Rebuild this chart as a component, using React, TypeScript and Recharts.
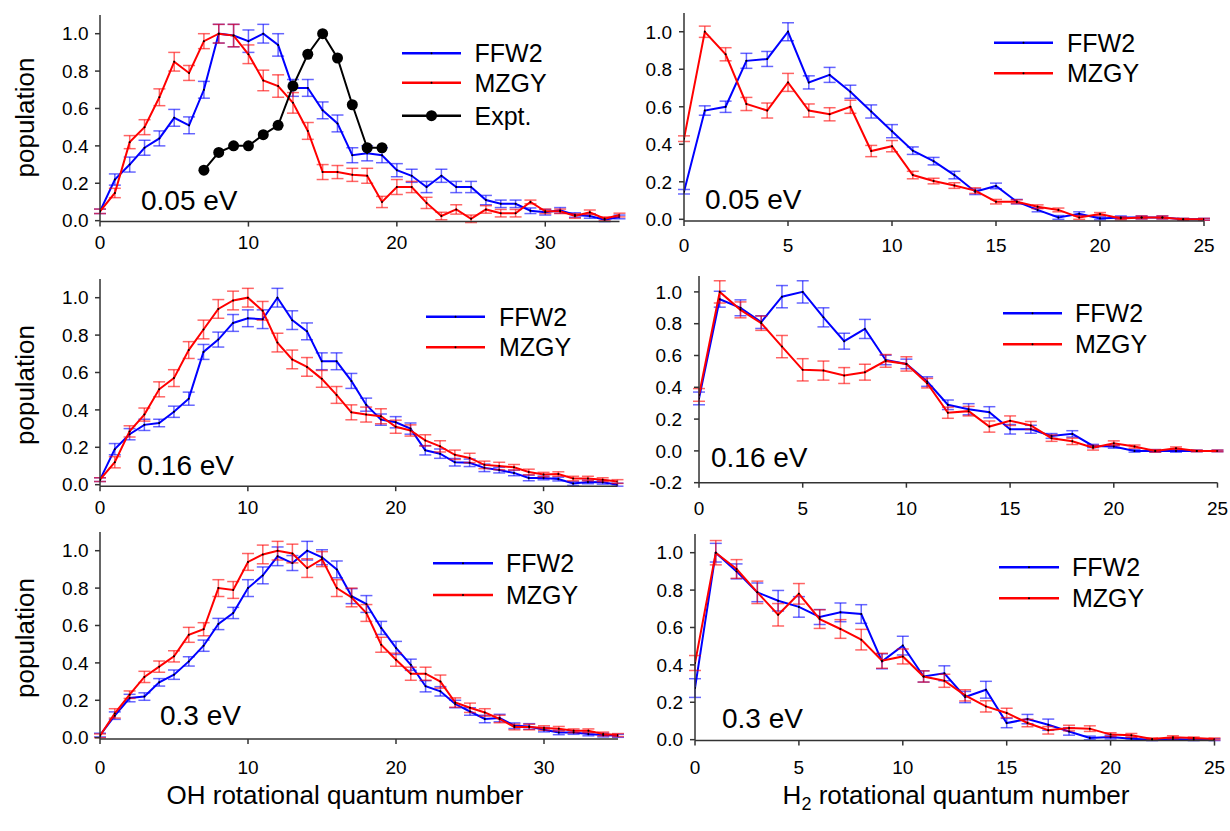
import React from 'react';
import { LineChart, Line, XAxis, YAxis, ErrorBar } from 'recharts';

const FONT = "'Liberation Sans', Arial, Helvetica, sans-serif";
const BLUE = '#0000ff';
const RED = '#ff0000';
const AXIS = '#333333';

// ---------- categories / ticks ----------
const OH_J = [0,1,2,3,4,5,6,7,8,9,10,11,12,13,14,15,16,17,18,19,20,21,22,23,24,25,26,27,28,29,30,31,32,33,34,35];
const H2_J = [0,1,2,3,4,5,6,7,8,9,10,11,12,13,14,15,16,17,18,19,20,21,22,23,24,25];
const OH_TICKS = [0, 10, 20, 30];
const H2_TICKS = [0, 5, 10, 15, 20, 25];
const POP_TICKS = [0, 0.2, 0.4, 0.6, 0.8, 1.0];
const POP_TICKS_NEG = [-0.2, 0, 0.2, 0.4, 0.6, 0.8, 1.0];

// ---------- 0.05 eV, OH ----------
const OH005_FFW2 = [0.05,0.22,0.30,0.39,0.44,0.55,0.51,0.70,1.00,0.99,0.96,1.00,0.94,0.71,0.71,0.59,0.52,0.35,0.36,0.35,0.27,0.24,0.18,0.24,0.18,0.18,0.11,0.09,0.09,0.053,0.045,0.055,0.03,0.025,0.005,0.02];
const OH005_FFW2_ERR = [0.012,0.03,0.04,0.04,0.04,0.045,0.045,0.045,0.05,0.06,0.06,0.05,0.06,0.045,0.045,0.045,0.045,0.04,0.04,0.04,0.035,0.035,0.03,0.035,0.03,0.03,0.025,0.02,0.02,0.015,0.015,0.015,0.012,0.012,0.01,0.01];
const OH005_MZGY = [0.05,0.148,0.42,0.50,0.66,0.85,0.79,0.96,1.00,0.99,0.89,0.75,0.72,0.63,0.48,0.26,0.26,0.245,0.24,0.10,0.18,0.18,0.095,0.025,0.06,0.01,0.06,0.04,0.04,0.10,0.05,0.05,0.025,0.045,0.01,0.03];
const OH005_MZGY_ERR = [0.012,0.025,0.035,0.04,0.045,0.05,0.04,0.04,0.05,0.06,0.05,0.055,0.06,0.055,0.045,0.04,0.035,0.035,0.04,0.03,0.04,0.03,0.03,0.02,0.025,0.02,0.02,0.02,0.02,0.01,0.012,0.012,0.012,0.012,0.01,0.01];
const OH005_EXPT = [null,null,null,null,null,null,null,0.27,0.365,0.40,0.40,0.46,0.51,0.72,0.89,1.00,0.87,0.62,0.39,0.39,null,null,null,null,null,null,null,null,null,null,null,null,null,null,null,null];

// ---------- 0.05 eV, H2 ----------
const H2005_FFW2 = [0.147,0.58,0.60,0.845,0.855,1.0,0.73,0.77,0.68,0.575,0.47,0.366,0.31,0.236,0.147,0.178,0.094,0.05,0.01,0.03,0.005,0.01,0.01,0.01,0,0];
const H2005_FFW2_ERR = [0.012,0.025,0.03,0.04,0.04,0.048,0.035,0.04,0.035,0.035,0.035,0.02,0.02,0.02,0.015,0.015,0.012,0.01,0.01,0.01,0.008,0.008,0.008,0.008,0.005,0.005];
const H2005_MZGY = [0.43,1.0,0.88,0.615,0.58,0.73,0.58,0.56,0.60,0.364,0.39,0.236,0.204,0.18,0.153,0.094,0.094,0.067,0.05,0.01,0.028,0.005,0.01,0.01,0,0];
const H2005_MZGY_ERR = [0.015,0.03,0.035,0.035,0.04,0.048,0.035,0.035,0.035,0.03,0.03,0.02,0.015,0.015,0.015,0.012,0.01,0.01,0.01,0.01,0.008,0.008,0.008,0.008,0.005,0.005];

// ---------- 0.16 eV, OH ----------
const OH016_FFW2 = [0.027,0.19,0.27,0.32,0.33,0.39,0.46,0.71,0.776,0.865,0.89,0.885,1.0,0.88,0.82,0.66,0.66,0.555,0.428,0.348,0.334,0.30,0.184,0.166,0.12,0.117,0.09,0.078,0.063,0.036,0.036,0.03,0.006,0.015,0.013,0.0];
const OH016_FFW2_ERR = [0.01,0.03,0.03,0.03,0.02,0.03,0.035,0.04,0.04,0.045,0.045,0.05,0.05,0.05,0.045,0.045,0.045,0.04,0.035,0.03,0.03,0.03,0.025,0.025,0.02,0.02,0.02,0.015,0.015,0.015,0.01,0.01,0.01,0.01,0.01,0.008];
const OH016_MZGY = [0.027,0.12,0.285,0.375,0.51,0.57,0.72,0.83,0.94,0.985,1.0,0.93,0.76,0.67,0.63,0.566,0.48,0.387,0.375,0.366,0.31,0.29,0.237,0.205,0.16,0.143,0.106,0.10,0.093,0.068,0.054,0.057,0.033,0.033,0.027,0.017];
const OH016_MZGY_ERR = [0.01,0.03,0.03,0.035,0.04,0.045,0.045,0.05,0.05,0.05,0.05,0.05,0.05,0.05,0.05,0.045,0.045,0.04,0.04,0.04,0.035,0.03,0.03,0.03,0.025,0.025,0.02,0.02,0.015,0.015,0.012,0.012,0.012,0.012,0.01,0.01];

// ---------- 0.16 eV, H2 ----------
const H2016_FFW2 = [0.33,0.954,0.90,0.81,0.97,1.0,0.84,0.69,0.767,0.572,0.547,0.436,0.29,0.262,0.243,0.136,0.136,0.094,0.107,0.031,0.027,0,0,0,0,0];
const H2016_FFW2_ERR = [0.04,0.05,0.05,0.04,0.07,0.07,0.06,0.05,0.06,0.03,0.03,0.03,0.03,0.035,0.035,0.03,0.025,0.015,0.02,0.01,0.01,0.008,0.008,0.008,0.005,0.005];
const H2016_MZGY = [0.352,1.0,0.887,0.803,0.656,0.51,0.505,0.474,0.495,0.566,0.547,0.426,0.24,0.25,0.153,0.19,0.16,0.08,0.06,0.02,0.048,0.027,0,0.017,0,0];
const H2016_MZGY_ERR = [0.04,0.07,0.05,0.045,0.07,0.07,0.06,0.05,0.05,0.04,0.045,0.03,0.035,0.03,0.035,0.03,0.025,0.02,0.02,0.015,0.015,0.01,0.008,0.008,0.005,0.005];

// ---------- 0.3 eV, OH ----------
const OH03_FFW2 = [0.014,0.118,0.212,0.22,0.296,0.337,0.408,0.492,0.608,0.667,0.80,0.868,0.97,0.934,1.0,0.965,0.90,0.757,0.715,0.587,0.48,0.39,0.275,0.248,0.18,0.14,0.10,0.105,0.064,0.06,0.043,0.028,0.028,0.02,0.014,0.01];
const OH03_FFW2_ERR = [0.01,0.02,0.02,0.02,0.02,0.025,0.025,0.03,0.03,0.03,0.045,0.045,0.05,0.04,0.05,0.04,0.045,0.04,0.045,0.035,0.035,0.03,0.03,0.025,0.02,0.02,0.02,0.02,0.015,0.015,0.012,0.012,0.01,0.01,0.01,0.008];
const OH03_MZGY = [0.01,0.13,0.23,0.325,0.38,0.435,0.55,0.58,0.80,0.79,0.94,0.98,1.0,0.985,0.907,0.955,0.80,0.75,0.667,0.497,0.417,0.342,0.342,0.30,0.188,0.16,0.135,0.10,0.057,0.057,0.052,0.048,0.037,0.037,0.02,0.014];
const OH03_MZGY_ERR = [0.01,0.025,0.02,0.03,0.03,0.03,0.04,0.035,0.045,0.045,0.045,0.05,0.05,0.05,0.05,0.04,0.045,0.05,0.045,0.04,0.035,0.035,0.035,0.035,0.025,0.025,0.02,0.02,0.015,0.015,0.012,0.012,0.01,0.01,0.01,0.008];

// ---------- 0.3 eV, H2 ----------
const H203_FFW2 = [0.276,1.0,0.90,0.788,0.743,0.71,0.656,0.681,0.672,0.419,0.503,0.338,0.355,0.228,0.267,0.089,0.11,0.08,0.044,0.009,0.014,0.005,0,0.004,0,0];
const H203_FFW2_ERR = [0.05,0.05,0.04,0.05,0.055,0.055,0.04,0.05,0.05,0.04,0.05,0.03,0.04,0.03,0.045,0.025,0.025,0.03,0.02,0.01,0.01,0.008,0.005,0.005,0.005,0.005];
const H203_MZGY = [0.41,1.0,0.913,0.788,0.668,0.78,0.645,0.592,0.535,0.422,0.445,0.338,0.315,0.237,0.178,0.143,0.089,0.05,0.062,0.059,0.027,0.023,0.004,0.013,0.009,0.004];
const H203_MZGY_ERR = [0.04,0.065,0.05,0.06,0.06,0.055,0.05,0.05,0.055,0.04,0.04,0.03,0.035,0.03,0.03,0.025,0.02,0.02,0.015,0.015,0.01,0.01,0.005,0.008,0.005,0.005];

const ENERGY_LABELS = ['0.05 eV', '0.05 eV', '0.16 eV', '0.16 eV', '0.3 eV', '0.3 eV'];

function buildRows(js: number[], ffw: number[], ffwErr: number[], mz: number[], mzErr: number[], expt?: (number | null)[]) {
  return js.map((j, i) => ({
    j,
    ffw: ffw[i],
    ffwErr: ffwErr[i],
    mzgy: mz[i],
    mzgyErr: mzErr[i],
    expt: expt ? expt[i] : null,
  }));
}

type PanelDef = {
  px: number; py: number; pw: number; ph: number;
  xDomain: [number, number]; yDomain: [number, number];
  xTicks: number[]; yTicks: number[];
  xTickMargin: number; yTickMargin: number;
  data: any[];
  hasExpt: boolean;
};

const YW = 80;
const XH = 44;
const MT = 6;
const MR = 12;

function Panel({ d }: { d: PanelDef }) {
  const W = YW + d.pw + MR;
  const H = MT + d.ph + XH;
  const tickStyle = { fill: '#000', fontSize: 19, fontFamily: FONT };
  return (
    <div style={{ position: 'absolute', left: d.px - YW, top: d.py - MT, width: W, height: H }}>
      <LineChart width={W} height={H} data={d.data} margin={{ top: MT, right: MR, left: 0, bottom: 0 }}>
        <XAxis
          dataKey="j"
          type="number"
          domain={d.xDomain}
          ticks={d.xTicks}
          allowDataOverflow
          interval={0}
          height={XH}
          tickSize={5}
          tickMargin={d.xTickMargin}
          stroke={AXIS}
          strokeWidth={1.5}
          tick={tickStyle}
        />
        <YAxis
          type="number"
          domain={d.yDomain}
          ticks={d.yTicks}
          allowDataOverflow
          interval={0}
          width={YW}
          tickSize={5}
          tickMargin={d.yTickMargin}
          stroke={AXIS}
          strokeWidth={1.5}
          tick={tickStyle}
          tickFormatter={(v: number) => v.toFixed(1)}
        />
        <Line
          dataKey="ffw"
          stroke={BLUE}
          strokeWidth={2}
          dot={{ r: 1, fill: '#000', stroke: 'none', strokeWidth: 0 }}
          activeDot={false}
          isAnimationActive={false}
        >
          <ErrorBar dataKey="ffwErr" width={6} stroke={BLUE} strokeOpacity={0.6} strokeWidth={1.5} direction="y" />
        </Line>
        <Line
          dataKey="mzgy"
          stroke={RED}
          strokeWidth={2}
          dot={{ r: 1, fill: '#000', stroke: 'none', strokeWidth: 0 }}
          activeDot={false}
          isAnimationActive={false}
        >
          <ErrorBar dataKey="mzgyErr" width={6} stroke={RED} strokeOpacity={0.6} strokeWidth={1.5} direction="y" />
        </Line>
        {d.hasExpt && (
          <Line
            dataKey="expt"
            stroke="#000"
            strokeWidth={2}
            dot={{ r: 5.5, fill: '#000', stroke: '#000', strokeWidth: 0 }}
            activeDot={false}
            isAnimationActive={false}
          />
        )}
      </LineChart>
    </div>
  );
}

const PANELS: PanelDef[] = [
  {
    px: 99.5, py: 15.3, pw: 519.5, ph: 206.6,
    xDomain: [0, 35], yDomain: [-0.005, 1.1], xTicks: OH_TICKS, yTicks: POP_TICKS,
    xTickMargin: 9, yTickMargin: 6.5, hasExpt: true,
    data: buildRows(OH_J, OH005_FFW2, OH005_FFW2_ERR, OH005_MZGY, OH005_MZGY_ERR, OH005_EXPT),
  },
  {
    px: 684, py: 13, pw: 520, ph: 208,
    xDomain: [0, 25], yDomain: [-0.009, 1.1], xTicks: H2_TICKS, yTicks: POP_TICKS,
    xTickMargin: 13, yTickMargin: 7, hasExpt: false,
    data: buildRows(H2_J, H2005_FFW2, H2005_FFW2_ERR, H2005_MZGY, H2005_MZGY_ERR),
  },
  {
    px: 100, py: 279.4, pw: 517.5, ph: 207.2,
    xDomain: [0, 35], yDomain: [-0.008, 1.1], xTicks: OH_TICKS, yTicks: POP_TICKS,
    xTickMargin: 9.5, yTickMargin: 6.5, hasExpt: false,
    data: buildRows(OH_J, OH016_FFW2, OH016_FFW2_ERR, OH016_MZGY, OH016_MZGY_ERR),
  },
  {
    px: 698.7, py: 276.1, pw: 518.5, ph: 206.7,
    xDomain: [0, 25], yDomain: [-0.2, 1.1], xTicks: H2_TICKS, yTicks: POP_TICKS_NEG,
    xTickMargin: 14, yTickMargin: 12, hasExpt: false,
    data: buildRows(H2_J, H2016_FFW2, H2016_FFW2_ERR, H2016_MZGY, H2016_MZGY_ERR),
  },
  {
    px: 99.5, py: 532.3, pw: 518, ph: 207,
    xDomain: [0, 35], yDomain: [-0.007, 1.1], xTicks: OH_TICKS, yTicks: POP_TICKS,
    xTickMargin: 16.5, yTickMargin: 6.5, hasExpt: false,
    data: buildRows(OH_J, OH03_FFW2, OH03_FFW2_ERR, OH03_MZGY, OH03_MZGY_ERR),
  },
  {
    px: 694.7, py: 534.3, pw: 519.5, ph: 206.6,
    xDomain: [0, 25], yDomain: [-0.005, 1.1], xTicks: H2_TICKS, yTicks: POP_TICKS,
    xTickMargin: 14.5, yTickMargin: 7, hasExpt: false,
    data: buildRows(H2_J, H203_FFW2, H203_FFW2_ERR, H203_MZGY, H203_MZGY_ERR),
  },
];

// overlay layout (positions only)
const ENERGY_POS = [
  { x: 141, y: 210 },
  { x: 705, y: 208.5 },
  { x: 137.5, y: 475 },
  { x: 711, y: 467 },
  { x: 160, y: 725 },
  { x: 722, y: 727.5 },
];

const LEGEND_POS = [
  { x1: 402, x2: 461, tx: 474.5, ys: [53.3, 82.7, 115.7] },
  { x1: 994, x2: 1053, tx: 1067, ys: [42.7, 73.3] },
  { x1: 426, x2: 485, tx: 499, ys: [316.7, 347.3] },
  { x1: 1003, x2: 1062, tx: 1075, ys: [313.3, 344.3] },
  { x1: 433, x2: 493, tx: 506, ys: [563.3, 595] },
  { x1: 999, x2: 1059, tx: 1072, ys: [567.3, 598.3] },
];

const LEGEND_ITEMS = [
  { name: 'FFW2', color: BLUE, big: false },
  { name: 'MZGY', color: RED, big: false },
  { name: 'Expt.', color: '#000', big: true },
];

const POP_Y = [117.5, 385, 638];

export default function App() {
  return (
    <div style={{ position: 'absolute', left: 0, top: 0, width: 1230, height: 831, background: '#fff', overflow: 'hidden' }}>
      {PANELS.map((d, i) => (
        <Panel key={i} d={d} />
      ))}
      <svg width={1230} height={831} style={{ position: 'absolute', left: 0, top: 0, pointerEvents: 'none' }}>
        {ENERGY_LABELS.map((t, i) => (
          <text key={'e' + i} x={ENERGY_POS[i].x} y={ENERGY_POS[i].y} fontSize={28} fontFamily={FONT} fill="#000">
            {t}
          </text>
        ))}
        {LEGEND_POS.map((L, i) =>
          L.ys.map((y, k) => {
            const it = LEGEND_ITEMS[k];
            const mid = (L.x1 + L.x2) / 2;
            return (
              <g key={'l' + i + '-' + k}>
                <line x1={L.x1} x2={L.x2} y1={y} y2={y} stroke={it.color} strokeWidth={2.5} />
                <circle cx={mid} cy={y} r={it.big ? 5.5 : 1} fill="#000" />
                <text x={L.tx} y={y + 9} fontSize={25} fontFamily={FONT} fill="#000">
                  {it.name}
                </text>
              </g>
            );
          })
        )}
        {POP_Y.map((y, i) => (
          <text
            key={'p' + i}
            x={34}
            y={y}
            transform={`rotate(-90 34 ${y})`}
            textAnchor="middle"
            fontSize={26}
            fontFamily={FONT}
            fill="#000"
          >
            population
          </text>
        ))}
        <text x={345} y={804} textAnchor="middle" fontSize={26} fontFamily={FONT} fill="#000">
          OH rotational quantum number
        </text>
        <text x={956} y={804} textAnchor="middle" fontSize={26} fontFamily={FONT} fill="#000">
          <tspan>H</tspan>
          <tspan dy={6} fontSize={18}>2</tspan>
          <tspan dy={-6}> rotational quantum number</tspan>
        </text>
      </svg>
    </div>
  );
}
